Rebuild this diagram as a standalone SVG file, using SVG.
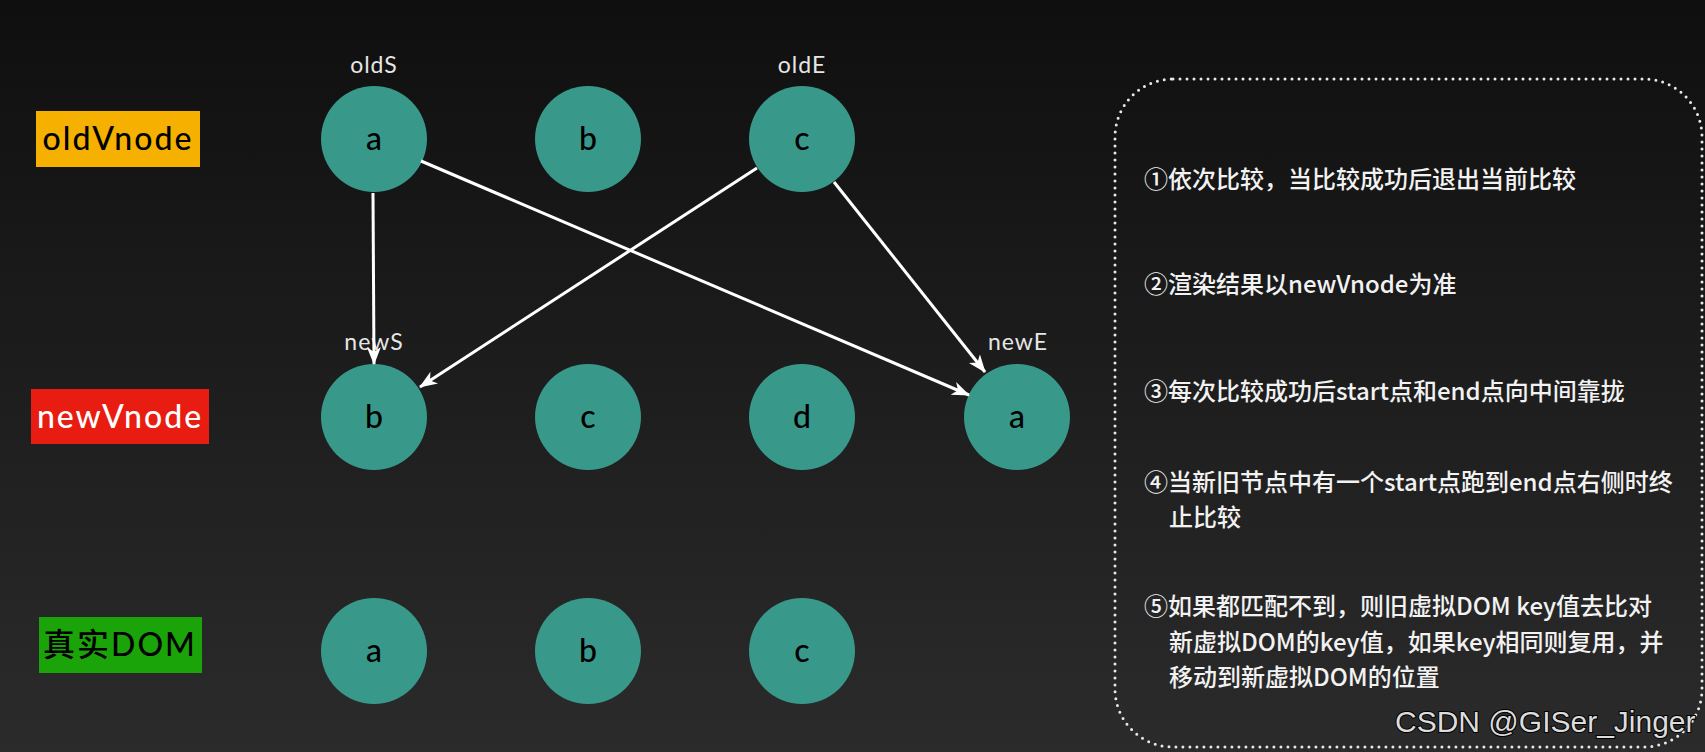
<svg xmlns="http://www.w3.org/2000/svg" width="1705" height="752" viewBox="0 0 1705 752">
<defs>
<linearGradient id="bg" x1="0" y1="0" x2="0" y2="1">
<stop offset="0" stop-color="#0f0f0f"/>
<stop offset="1" stop-color="#2b2b2b"/>
</linearGradient>
<marker id="arr" markerUnits="userSpaceOnUse" markerWidth="20" markerHeight="16" refX="17" refY="8" orient="auto">
<path d="M0,1 L18,8 L0,15 L5,8 Z" fill="#ffffff"/>
</marker>
<style>
.node{fill:#38998b}
.nt{font-family:Lato,"Noto Sans",sans-serif;font-size:32px;font-weight:500;fill:#000;text-anchor:middle}
.ptr{font-family:Lato,"Noto Sans",sans-serif;font-size:23px;fill:#e6e6e6;text-anchor:middle;letter-spacing:1px}
.lab{font-family:Lato,"Noto Sans CJK SC",sans-serif;font-size:32px;font-weight:500;text-anchor:middle;letter-spacing:2px}
.edge{stroke:#ffffff;stroke-width:3;fill:none;marker-end:url(#arr)}
.note{font-family:"Noto Sans CJK SC","Noto Sans",sans-serif;font-size:24px;font-weight:500;fill:#f2f2f2}
</style>
</defs>
<rect x="0" y="0" width="1705" height="752" fill="url(#bg)"/>

<g id="label-oldVnode">
<rect x="36" y="111" width="164" height="56" fill="#f6b100"/>
<text class="lab" x="118" y="150" fill="#000">oldVnode</text>
</g>
<g id="label-newVnode">
<rect x="31" y="389" width="178" height="55" fill="#e81c10"/>
<text class="lab" x="120" y="428" fill="#fff">newVnode</text>
</g>
<g id="label-realDOM">
<rect x="39" y="617" width="163" height="56" fill="#1ba30a"/>
<text class="lab" x="120" y="656" fill="#000">真实DOM</text>
</g>

<g id="old-a"><circle class="node" cx="374" cy="139" r="53"/><text class="nt" x="374" y="150">a</text><text class="ptr" x="374" y="73">oldS</text></g>
<g id="old-b"><circle class="node" cx="588" cy="139" r="53"/><text class="nt" x="588" y="150">b</text></g>
<g id="old-c"><circle class="node" cx="802" cy="139" r="53"/><text class="nt" x="802" y="150">c</text><text class="ptr" x="802" y="73">oldE</text></g>

<g id="new-b"><circle class="node" cx="374" cy="417" r="53"/><text class="nt" x="374" y="428">b</text><text class="ptr" x="374" y="350">newS</text></g>
<g id="new-c"><circle class="node" cx="588" cy="417" r="53"/><text class="nt" x="588" y="428">c</text></g>
<g id="new-d"><circle class="node" cx="802" cy="417" r="53"/><text class="nt" x="802" y="428">d</text></g>
<g id="new-a"><circle class="node" cx="1017" cy="417" r="53"/><text class="nt" x="1017" y="428">a</text><text class="ptr" x="1018" y="350">newE</text></g>

<g id="dom-a"><circle class="node" cx="374" cy="651" r="53"/><text class="nt" x="374" y="662">a</text></g>
<g id="dom-b"><circle class="node" cx="588" cy="651" r="53"/><text class="nt" x="588" y="662">b</text></g>
<g id="dom-c"><circle class="node" cx="802" cy="651" r="53"/><text class="nt" x="802" y="662">c</text></g>

<g id="connectors">
<line class="edge" x1="373" y1="193" x2="374" y2="364"/>
<line class="edge" x1="421" y1="161" x2="969" y2="395"/>
<line class="edge" x1="757" y1="168" x2="420" y2="387"/>
<line class="edge" x1="834" y1="182" x2="985" y2="372"/>
</g>

<g id="notes">
<rect x="1115" y="79" width="587" height="668" rx="58" ry="58" fill="none" stroke="#e8e8e8" stroke-width="3" stroke-linecap="round" stroke-dasharray="0 7"/>
<text class="note" x="1144" y="188">①依次比较，当比较成功后退出当前比较</text>
<text class="note" x="1144" y="293">②渲染结果以newVnode为准</text>
<text class="note" x="1144" y="400">③每次比较成功后start点和end点向中间靠拢</text>
<text class="note" x="1144" y="491">④当新旧节点中有一个start点跑到end点右侧时终</text>
<text class="note" x="1169" y="526">止比较</text>
<text class="note" x="1144" y="615">⑤如果都匹配不到，则旧虚拟DOM key值去比对</text>
<text class="note" x="1169" y="651">新虚拟DOM的key值，如果key相同则复用，并</text>
<text class="note" x="1169" y="686">移动到新虚拟DOM的位置</text>
</g>

<text x="1395" y="732" font-family="Liberation Sans, Arial, sans-serif" font-size="30" fill="#dcdcdc" stroke="#000" stroke-width="2" paint-order="stroke">CSDN @GISer_Jinger</text>
</svg>
